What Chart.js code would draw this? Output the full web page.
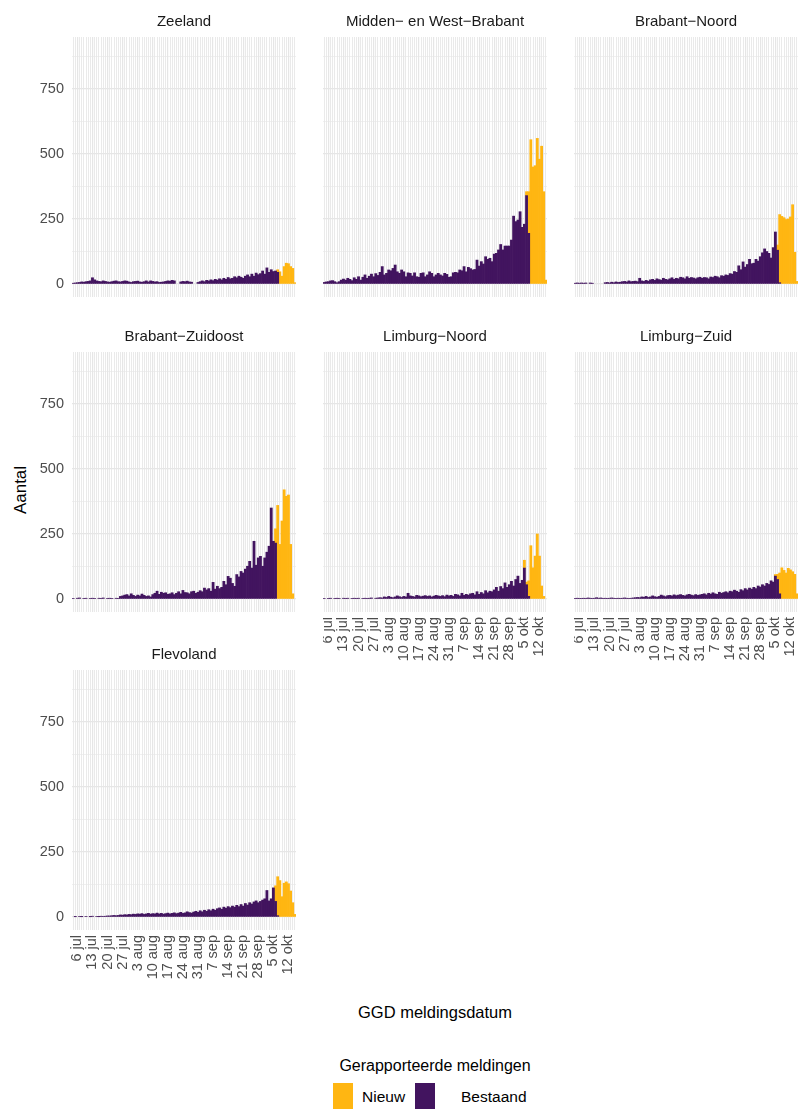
<!DOCTYPE html>
<html><head><meta charset="utf-8">
<script src="https://cdn.jsdelivr.net/npm/chart.js@4.4.0/dist/chart.umd.min.js"></script>
<style>
body{margin:0;background:#fff;width:798px;height:1109px;position:relative;overflow:hidden;font-family:"Liberation Sans",Arial,sans-serif;}
canvas{position:absolute;}
.t{position:absolute;color:#000;white-space:nowrap;}
.key{position:absolute;width:20px;height:27px;}
</style></head><body>
<div class="t" style="left:21px;top:490px;font-size:17px;transform:translate(-50%,-50%) rotate(-90deg);">Aantal</div>
<div class="t" style="left:435px;top:1012px;font-size:16.5px;transform:translate(-50%,-50%);">GGD meldingsdatum</div>
<div class="t" style="left:435px;top:1066px;font-size:16px;transform:translate(-50%,-50%);">Gerapporteerde meldingen</div>
<div class="key" style="left:333px;top:1083px;background:#FFB612;"></div>
<div class="t" style="left:362px;top:1097px;font-size:15.5px;transform:translateY(-50%);">Nieuw</div>
<div class="key" style="left:415px;top:1083px;background:#42145F;"></div>
<div class="t" style="left:461px;top:1097px;font-size:15.5px;transform:translateY(-50%);">Bestaand</div>
<script>
// ---------- data ----------
const monthNames = ['jan','feb','mrt','apr','mei','jun','jul','aug','sep','okt','nov','dec'];
const categories = [];
for (let d = new Date(2020, 6, 4); d <= new Date(2020, 9, 15); d.setDate(d.getDate() + 1)) {
  categories.push(d.getDate() + ' ' + monthNames[d.getMonth()]);
}
const tickLabels = ['6 jul','13 jul','20 jul','27 jul','3 aug','10 aug','17 aug','24 aug','31 aug','7 sep','14 sep','21 sep','28 sep','5 okt','12 okt'];
const yTicks = [0, 125, 250, 375, 500, 625, 750, 875];
const yTickLabels = ['0', '', '250', '', '500', '', '750', ''];
const seriesNames = ['Bestaand', 'Nieuw'];
const regionNames = ['Zeeland','Midden\u2212 en West\u2212Brabant','Brabant\u2212Noord','Brabant\u2212Zuidoost','Limburg\u2212Noord','Limburg\u2212Zuid','Flevoland'];

const zeelandBestaand = [3,4,5,6,8,7,9,10,12,24, 16,12,10,9,12,10,8,7,9,11, 12,9,8,10,12,11,8,6,9,10, 11,8,7,9,12,8,12,10,8,9,
  6,7,8,10,12,11,14,12,0,0, 8,10,9,11,8,7,0,0,6,9, 12,9,14,12,16,13,18,15,20,16, 22,18,25,20,22,28,24,30,26,22,
  30,35,28,38,30,42,36,40,50,38, 62,45,55,48,50,45,0,0,0,0, 0,0,0,0];
const zeelandNieuw = [0,0,0,0,0,0,0,0,0,0, 0,0,0,0,0,0,0,0,0,0, 0,0,0,0,0,0,0,0,0,0, 0,0,0,0,0,0,0,0,0,0,
  0,0,0,0,0,0,0,0,0,0, 0,0,0,0,0,0,0,0,0,0, 0,0,0,0,0,0,0,0,0,0, 0,0,0,0,0,0,0,0,0,0,
  0,0,0,0,0,0,0,0,0,0, 0,0,0,0,0,10,47,30,67,80, 78,67,60,5];

const mwbBestaand = [6,8,9,12,13,9,5,9,15,19, 15,22,18,13,24,18,28,15,26,35, 22,30,38,28,40,33,45,67,35,41, 54,51,60,73,47,41,54,47,28,43,
  41,31,43,28,26,41,43,28,35,47, 41,28,35,41,35,31,41,37,26,28, 43,45,43,54,51,67,47,64,59,54, 56,92,69,86,77,105,95,99,86,115,
  118,131,152,131,146,146,146,169,261,240, 246,278,218,230,340,195,0,0,0,0, 0,0,0,0];
const mwbNieuw = [0,0,0,0,0,0,0,0,0,0, 0,0,0,0,0,0,0,0,0,0, 0,0,0,0,0,0,0,0,0,0, 0,0,0,0,0,0,0,0,0,0,
  0,0,0,0,0,0,0,0,0,0, 0,0,0,0,0,0,0,0,0,0, 0,0,0,0,0,0,0,0,0,0, 0,0,0,0,0,0,0,0,0,0,
  0,0,0,0,0,0,0,0,0,0, 0,0,0,0,15,160,555,450,455,560, 480,530,355,15];

const bnBestaand = [3,4,3,4,3,4,0,4,3,0, 0,0,0,0,5,6,4,7,5,8, 6,7,9,10,8,12,9,10,11,9, 22,12,10,14,11,16,18,14,20,17,
  15,22,18,16,20,24,18,22,20,26, 24,20,28,22,25,23,20,24,26,22, 25,24,20,27,25,30,28,24,32,30, 35,33,40,38,48,45,70,55,85,65,
  75,95,78,80,95,88,105,120,135,125, 118,100,140,200,130,5,0,0,0,0, 0,0,0,0];
const bnNieuw = [0,0,0,0,0,0,0,0,0,0, 0,0,0,0,0,0,0,0,0,0, 0,0,0,0,0,0,0,0,0,0, 0,0,0,0,0,0,0,0,0,0,
  0,0,0,0,0,0,0,0,0,0, 0,0,0,0,0,0,0,0,0,0, 0,0,0,0,0,0,0,0,0,0, 0,0,0,0,0,0,0,0,0,0,
  0,0,0,0,0,0,0,0,0,0, 0,0,0,0,20,262,260,255,248,250, 258,305,122,10];

const bzoBestaand = [2,0,3,4,0,2,3,0,2,3, 2,0,3,2,4,0,2,3,2,0, 3,2,10,12,15,17,12,20,14,10, 15,12,19,14,10,12,8,17,22,30,
  18,26,22,24,18,20,24,17,22,28, 20,33,25,24,20,28,30,22,26,32, 28,42,35,40,30,64,38,49,40,45, 68,55,87,80,60,49,94,85,106,100,
  115,126,145,119,222,130,158,164,126,158, 180,203,350,222,215,0,0,0,0,0, 0,0,0,0];
const bzoNieuw = [0,0,0,0,0,0,0,0,0,0, 0,0,0,0,0,0,0,0,0,0, 0,0,0,0,0,0,0,0,0,0, 0,0,0,0,0,0,0,0,0,0,
  0,0,0,0,0,0,0,0,0,0, 0,0,0,0,0,0,0,0,0,0, 0,0,0,0,0,0,0,0,0,0, 0,0,0,0,0,0,0,0,0,0,
  0,0,0,0,0,0,0,0,0,0, 0,0,0,0,55,360,210,300,420,395, 400,210,20,0];

const lnBestaand = [2,0,2,3,0,2,3,2,0,3, 2,3,0,2,3,2,3,0,2,3, 2,3,4,0,3,4,5,4,8,6, 10,7,5,8,12,9,6,10,8,22,
  12,10,8,14,12,9,11,13,10,12, 8,11,14,12,10,13,9,15,12,14, 10,18,16,12,22,14,18,15,20,22, 16,28,18,25,20,32,24,30,28,35,
  45,30,48,40,62,45,55,68,50,75, 88,60,72,119,55,10,0,0,0,0, 0,0,0,0];
const lnNieuw = [0,0,0,0,0,0,0,0,0,0, 0,0,0,0,0,0,0,0,0,0, 0,0,0,0,0,0,0,0,0,0, 0,0,0,0,0,0,0,0,0,0,
  0,0,0,0,0,0,0,0,0,0, 0,0,0,0,0,0,0,0,0,0, 0,0,0,0,0,0,0,0,0,0, 0,0,0,0,0,0,0,0,0,0,
  0,0,0,0,0,0,0,0,0,0, 0,0,0,30,10,60,205,120,165,250, 165,50,10,0];

const lzBestaand = [2,3,2,2,3,2,4,3,2,3, 5,3,4,2,3,2,3,4,3,2, 3,2,3,4,3,2,3,4,5,6, 5,8,7,10,6,8,12,9,7,10,
  15,12,9,13,14,12,16,13,15,17, 14,12,16,18,15,13,17,14,16,18, 20,16,22,19,24,20,18,26,22,25, 28,24,30,28,34,30,26,36,32,40,
  35,42,38,45,40,50,46,55,50,60, 56,70,65,88,75,20,0,0,0,0, 0,0,0,0];
const lzNieuw = [0,0,0,0,0,0,0,0,0,0, 0,0,0,0,0,0,0,0,0,0, 0,0,0,0,0,0,0,0,0,0, 0,0,0,0,0,0,0,0,0,0,
  0,0,0,0,0,0,0,0,0,0, 0,0,0,0,0,0,0,0,0,0, 0,0,0,0,0,0,0,0,0,0, 0,0,0,0,0,0,0,0,0,0,
  0,0,0,0,0,0,0,0,0,0, 0,0,0,6,20,80,120,110,100,118, 112,105,95,20];

const flBestaand = [0,1,0,2,1,0,2,0,1,3, 0,2,1,3,2,3,4,4,5,6, 5,6,8,7,9,8,10,9,11,10, 12,11,13,10,12,14,11,13,12,15,
  12,14,11,13,15,12,14,16,13,15, 18,14,16,20,17,15,19,22,18,24, 20,26,22,28,24,30,26,32,35,30, 38,34,40,36,42,38,45,40,48,42,
  52,46,55,50,58,62,55,60,65,70, 102,62,70,112,60,5,0,0,0,0, 0,0,0,0];
const flNieuw = [0,0,0,0,0,0,0,0,0,0, 0,0,0,0,0,0,0,0,0,0, 0,0,0,0,0,0,0,0,0,0, 0,0,0,0,0,0,0,0,0,0,
  0,0,0,0,0,0,0,0,0,0, 0,0,0,0,0,0,0,0,0,0, 0,0,0,0,0,0,0,0,0,0, 0,0,0,0,0,0,0,0,0,0,
  0,0,0,0,0,0,0,0,0,0, 0,0,0,0,60,150,140,78,130,135, 128,100,55,10];

// ---------- layout / style ----------
const FONT = '"Liberation Sans", Arial, sans-serif';
const COL_BESTAAND = '#42145F';
const COL_NIEUW = '#FFB612';
const GRID = '#E6E6E6';
const colLeft = [72, 323, 574];
const rowTop = [37, 352, 670];
const PW = 224, PH = 260, TITLE_H = 30, XLAB_H = 70;

const panels = [
  {name: regionNames[0], b: zeelandBestaand, n: zeelandNieuw, col: 0, row: 0, xlab: false},
  {name: regionNames[1], b: mwbBestaand, n: mwbNieuw, col: 1, row: 0, xlab: false},
  {name: regionNames[2], b: bnBestaand, n: bnNieuw, col: 2, row: 0, xlab: false},
  {name: regionNames[3], b: bzoBestaand, n: bzoNieuw, col: 0, row: 1, xlab: false},
  {name: regionNames[4], b: lnBestaand, n: lnNieuw, col: 1, row: 1, xlab: true},
  {name: regionNames[5], b: lzBestaand, n: lzNieuw, col: 2, row: 1, xlab: true},
  {name: regionNames[6], b: flBestaand, n: flNieuw, col: 0, row: 2, xlab: true},
];

const fillFor = color => ctx => (ctx.raw ? color : 'rgba(0,0,0,0)');

panels.forEach(p => {
  const yW = p.col === 0 ? 72 : 0;
  const xH = p.xlab ? XLAB_H : 0;
  const cv = document.createElement('canvas');
  cv.width = yW + PW; cv.height = TITLE_H + PH + xH;
  cv.style.left = (colLeft[p.col] - yW) + 'px';
  cv.style.top = (rowTop[p.row] - TITLE_H) + 'px';
  cv.style.width = cv.width + 'px'; cv.style.height = cv.height + 'px';
  document.body.appendChild(cv);
  new Chart(cv, {
    type: 'bar',
    data: {
      labels: categories,
      datasets: [
        {label: seriesNames[0], data: p.b, backgroundColor: fillFor(COL_BESTAAND), borderWidth: 0, barPercentage: 1, categoryPercentage: 1},
        {label: seriesNames[1], data: p.n, backgroundColor: fillFor(COL_NIEUW), borderWidth: 0, barPercentage: 1, categoryPercentage: 1}
      ]
    },
    options: {
      responsive: false, animation: false, devicePixelRatio: 1,
      layout: {padding: 0},
      plugins: {
        legend: {display: false}, tooltip: {enabled: false},
        title: {display: true, text: p.name, fullSize: false, color: '#1A1A1A',
          font: {family: FONT, size: 15, weight: 400, lineHeight: 1}, padding: {top: 7, bottom: 8}}
      },
      scales: {
        x: {
          stacked: true, offset: true,
          afterFit(s) { s.height = xH; s.paddingLeft = 0; s.paddingRight = 0; },
          grid: {offset: false, drawTicks: false, color: GRID,
            lineWidth: ctx => (tickLabels.includes(categories[ctx.index]) ? 1.2 : 0.85)},
          border: {display: false},
          ticks: {display: p.xlab, autoSkip: false, minRotation: 90, maxRotation: 90, padding: 5,
            color: '#4D4D4D', font: {family: FONT, size: 14.5},
            callback: (v, i) => (tickLabels.includes(categories[i]) ? categories[i] : '')}
        },
        y: {
          stacked: true, min: -50, max: 950,
          afterBuildTicks(s) { s.ticks = yTicks.map(v => ({value: v})); },
          afterFit(s) { s.width = yW; s.paddingTop = 0; s.paddingBottom = 0; },
          grid: {drawTicks: false, color: GRID,
            lineWidth: ctx => (ctx.tick && ctx.tick.value % 250 === 0 ? 1.2 : 0.6)},
          border: {display: false},
          ticks: {display: p.col === 0, autoSkip: false, padding: 8,
            color: '#4D4D4D', font: {family: FONT, size: 14.5},
            callback: (v, i) => yTickLabels[i]}
        }
      }
    }
  });
});
</script>
</body></html>
